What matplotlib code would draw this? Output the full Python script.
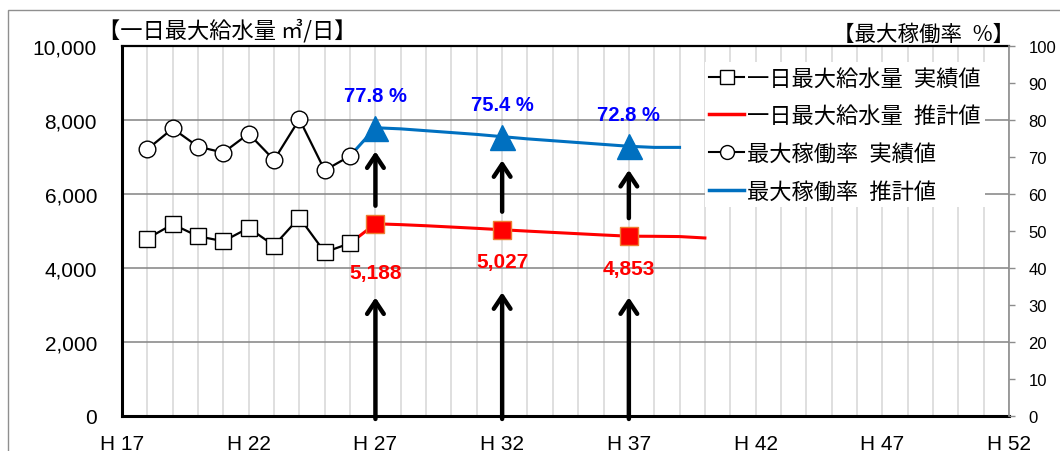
import matplotlib
matplotlib.use("Agg")
from matplotlib import pyplot as plt
from matplotlib.lines import Line2D
from matplotlib.patches import Rectangle

JP = ['Noto Sans CJK JP', 'DejaVu Sans']
NUM = ['Liberation Sans', 'DejaVu Sans']

plt.rcParams['font.family'] = JP

# 実績値 H18-H26
actual_years = [18, 19, 20, 21, 22, 23, 24, 25, 26]
actual_supply = [4790, 5175, 4852, 4717, 5076, 4600, 5356, 4420, 4663]
actual_rate = [72.0, 77.6, 72.7, 71.1, 76.2, 69.1, 80.1, 66.3, 70.2]

# 推計値 (joined to the last actual year)
est_supply_years = [26, 27, 28, 29, 30, 31, 32, 33, 34, 35, 36, 37, 38, 39, 40]
est_supply = [4663, 5188, 5165, 5135, 5100, 5065, 5027, 4990, 4955, 4920,
              4885, 4853, 4850, 4843, 4805]
est_rate_years = [26, 27, 28, 29, 30, 31, 32, 33, 34, 35, 36, 37, 38, 39]
est_rate = [70.2, 77.8, 77.5, 77.0, 76.5, 76.0, 75.4, 74.8, 74.3, 73.8,
            73.3, 72.8, 72.5, 72.5]

# highlighted target years
key_years = [27, 32, 37]
key_supply = [5188, 5027, 4853]
key_rate = [77.8, 75.4, 72.8]

x_ticks = [17, 22, 27, 32, 37, 42, 47, 52]
x_labels = ['H 17', 'H 22', 'H 27', 'H 32', 'H 37', 'H 42', 'H 47', 'H 52']
left_ticks = [0, 2000, 4000, 6000, 8000, 10000]
right_ticks = [0, 10, 20, 30, 40, 50, 60, 70, 80, 90, 100]

W, H = 1060, 452
fig = plt.figure(figsize=(W / 100, H / 100), dpi=100)
ax = fig.add_axes([122 / W, 1 - 417 / H, (1009 - 122) / W, (417 - 46.5) / H])
ax2 = ax.twinx()

# outer chart frame
fig.add_artist(Rectangle((8 / W, -0.5), 2, 0.5 + 1 - 11 / H,
                         transform=fig.transFigure, fill=False,
                         ec='#8f8f8f', lw=1))

ax.set_xlim(17, 52)
ax.set_ylim(0, 10000)
ax2.set_ylim(0, 100)

ax.set_xticks(x_ticks)
ax.set_xticks(range(17, 53), minor=True)
ax.set_xticklabels(x_labels, fontfamily=NUM, fontsize=15)
ax.set_yticks(left_ticks)
ax.set_yticklabels([f'{v:,}' for v in left_ticks], fontfamily=NUM, fontsize=15)
ax.tick_params(axis='both', which='both', length=0)
ax.tick_params(axis='x', pad=13)
ax.tick_params(axis='y', pad=18)
ax.grid(axis='x', which='both', color='#d9d9d9', lw=1.2, zorder=0)
ax.grid(axis='y', which='major', color='#8c8c8c', lw=1.2, zorder=0)
ax.set_axisbelow(True)

ax2.set_yticks(right_ticks)
ax2.set_yticklabels([str(v) for v in right_ticks], fontfamily=NUM, fontsize=12)
ax2.tick_params(axis='y', length=4, color='#8c8c8c', width=1, pad=10)

for s in ['left', 'bottom']:
    ax.spines[s].set_linewidth(2.2)
    ax.spines[s].set_color('black')
ax.spines['top'].set_linewidth(1.6)
ax.spines['right'].set_visible(False)
for s in ['left', 'bottom', 'top']:
    ax2.spines[s].set_visible(False)
ax2.spines['right'].set_color('#8c8c8c')
ax2.spines['right'].set_linewidth(1.2)

# 一日最大給水量
ax.plot(est_supply_years, est_supply, color='#ff0000', lw=2.2, zorder=3)
ax.plot(actual_years, actual_supply, color='black', lw=1.6, marker='s',
        ms=12, mfc='white', mec='black', mew=1, zorder=4)
ax.plot(key_years, key_supply, ls='none', marker='s', ms=13,
        mfc='#ff0000', mec='#ed7d31', mew=1, zorder=5)

# 最大稼働率
ax2.plot(est_rate_years, est_rate, color='#0070c0', lw=2.2, zorder=3)
ax2.plot(actual_years, actual_rate, color='black', lw=1.6, marker='o',
         ms=12, mfc='white', mec='black', mew=1, zorder=4)
ax2.plot(key_years, key_rate, ls='none', marker='^', ms=18,
         color='#0070c0', zorder=5)

arrow = dict(arrowstyle='->,head_length=0.45,head_width=0.3',
             mutation_scale=20, lw=3.2, color='black')
supply_dy = [-35, -23, -23]
lower_gap = [53, 45, 44]
for yr, sv, rv, dy, gap in zip(key_years, key_supply, key_rate,
                               supply_dy, lower_gap):
    # arrow from supply marker up to rate marker
    ax.annotate('', xy=(yr, rv), xycoords=ax2.transData,
                xytext=(yr, sv), textcoords=ax.transData,
                arrowprops=dict(arrow, shrinkA=13, shrinkB=17))
    # arrow from the axis up to the supply label
    ax.annotate('', xy=(yr, sv), xytext=(yr, -80),
                arrowprops=dict(arrow, shrinkA=0, shrinkB=gap),
                annotation_clip=False)
    ax.annotate(f'{sv:,}', xy=(yr, sv), xytext=(0, dy),
                textcoords='offset points', ha='center', va='center',
                color='#ff0000', fontsize=15, fontweight='bold',
                fontfamily=NUM)
    ax2.annotate(f'{rv:.1f} %', xy=(yr, rv), xytext=(0, 23),
                 textcoords='offset points', ha='center', va='center',
                 color='#0000ff', fontsize=14.5, fontweight='bold',
                 fontfamily=NUM)

handles = [
    Line2D([], [], color='black', lw=1.5, marker='s', ms=10,
           mfc='white', mec='black'),
    Line2D([], [], color='#ff0000', lw=2.5),
    Line2D([], [], color='black', lw=1.5, marker='o', ms=10,
           mfc='white', mec='black'),
    Line2D([], [], color='#0070c0', lw=2.5),
]
labels = ['一日最大給水量\u2002実績値', '一日最大給水量\u2002推計値',
          '最大稼働率\u2002実績値', '最大稼働率\u2002推計値']
leg = ax2.legend(handles, labels, loc='upper left',
                 bbox_to_anchor=(705 / W, 1 - 63 / H),
                 bbox_transform=fig.transFigure, prop={'size': 16},
                 frameon=True, fancybox=False, framealpha=1,
                 facecolor='white', edgecolor='none', borderpad=0.2,
                 borderaxespad=0, handlelength=1.55, handletextpad=0.15,
                 labelspacing=0.66)
leg.set_zorder(10)

fig.text(98 / W, 1 - 31 / H, '【一日最大給水量 ㎥/日】', fontsize=16,
         va='center', ha='left')
fig.text(1014 / W, 1 - 35 / H, '【最大稼働率\u2002%】', fontsize=15.5,
         va='center', ha='right')

fig.savefig('out.png', dpi=100)
